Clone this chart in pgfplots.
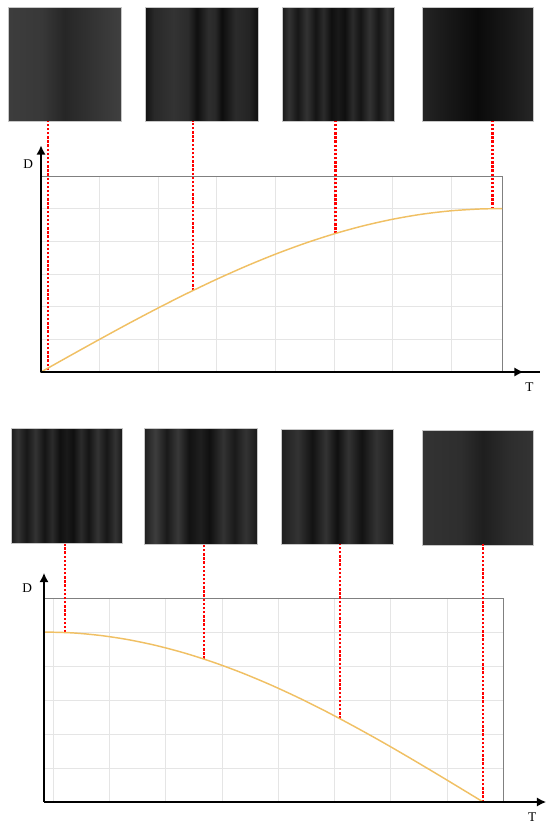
\documentclass[border=0pt]{standalone}
\usepackage{fontspec}
\setmainfont{Liberation Serif}
\usepackage{pgfplots}
\pgfplotsset{compat=1.18}
\usetikzlibrary{arrows.meta}
\definecolor{curvecol}{RGB}{240,192,100}
\definecolor{framecol}{RGB}{128,128,128}

\pgfdeclarehorizontalshading{sA}{100bp}{color(0bp)=(black!76); color(25bp)=(black!76); color(40bp)=(black!78); color(50bp)=(black!85); color(57.5bp)=(black!82); color(75bp)=(black!75); color(100bp)=(black!75)}
\pgfdeclarehorizontalshading{sB}{100bp}{color(0bp)=(black!93); color(25bp)=(black!93); color(29bp)=(black!84); color(37.5bp)=(black!80); color(44bp)=(black!83); color(48bp)=(black!94); color(53bp)=(black!82); color(56bp)=(black!84); color(59bp)=(black!95); color(65bp)=(black!83); color(71bp)=(black!86); color(75bp)=(black!94); color(100bp)=(black!94)}
\pgfdeclarehorizontalshading{sC}{100bp}{color(0bp)=(black!90); color(25bp)=(black!90); color(28bp)=(black!80); color(32bp)=(black!91); color(36bp)=(black!80); color(40bp)=(black!92); color(43.5bp)=(black!83); color(47bp)=(black!94); color(50bp)=(black!90); color(53bp)=(black!94); color(56.5bp)=(black!83); color(60bp)=(black!92); color(64bp)=(black!80); color(68bp)=(black!91); color(72bp)=(black!80); color(75bp)=(black!90); color(100bp)=(black!90)}
\pgfdeclarehorizontalshading{sD}{100bp}{color(0bp)=(black!86); color(25bp)=(black!86); color(35bp)=(black!90); color(50bp)=(black!96); color(65bp)=(black!90); color(75bp)=(black!85); color(100bp)=(black!85)}
\pgfdeclarehorizontalshading{sE}{100bp}{color(0bp)=(black!88); color(25bp)=(black!88); color(30bp)=(black!76); color(35bp)=(black!90); color(40bp)=(black!78); color(45bp)=(black!93); color(50bp)=(black!88); color(54bp)=(black!94); color(60bp)=(black!80); color(65bp)=(black!90); color(70bp)=(black!80); color(75bp)=(black!90); color(100bp)=(black!90)}
\pgfdeclarehorizontalshading{sF}{100bp}{color(0bp)=(black!88); color(25bp)=(black!88); color(32.5bp)=(black!80); color(39bp)=(black!93); color(45bp)=(black!80); color(50bp)=(black!94); color(55bp)=(black!80); color(61bp)=(black!93); color(67.5bp)=(black!80); color(75bp)=(black!90); color(100bp)=(black!90)}
\pgfdeclarehorizontalshading{sG}{100bp}{color(0bp)=(black!80); color(25bp)=(black!80); color(42.5bp)=(black!82); color(52.5bp)=(black!88); color(65bp)=(black!82); color(75bp)=(black!80); color(100bp)=(black!80)}

\tikzset{reddot/.style={color={rgb,255:red,255;green,0;blue,0}, line width=1.8pt, dash pattern=on 1.8pt off 1.3pt}}

\begin{document}
\begin{tikzpicture}[font=\fontsize{10}{11}\selectfont]
\useasboundingbox (0,0) rectangle (412.5pt,-618.75pt);

% ---------- pictures (decoration) ----------
\begin{scope}[x=0.75pt,y=-0.75pt]
\shadedraw[shading=sA, draw=black!22, line width=0.4pt] (8,7) rectangle (121,121);
\shadedraw[shading=sB, draw=black!22, line width=0.4pt] (145,7) rectangle (258,121);
\shadedraw[shading=sC, draw=black!22, line width=0.4pt] (282,7) rectangle (394,121);
\shadedraw[shading=sD, draw=black!22, line width=0.4pt] (422,7) rectangle (533,121);
\shadedraw[shading=sC, draw=black!22, line width=0.4pt] (11,428) rectangle (122,543);
\shadedraw[shading=sE, draw=black!22, line width=0.4pt] (144,428) rectangle (257,544);
\shadedraw[shading=sF, draw=black!22, line width=0.4pt] (281,429) rectangle (393,544);
\shadedraw[shading=sG, draw=black!22, line width=0.4pt] (422,430) rectangle (533,545);
\end{scope}

% ---------- top panel ----------
\begin{axis}[at={(0.75*41pt,-0.75*372pt)}, anchor=south west, scale only axis,
  width=345.75pt, height=147pt,
  xmin=0, xmax=7.87, ymin=0, ymax=6,
  xtick={1,...,7}, ytick={1,...,5}, xticklabels={}, yticklabels={},
  grid=major, major grid style={line width=0.5pt, draw=black!10},
  major tick length=0pt,
  axis line style={draw=framecol, line width=0.75pt},
  clip=false]
\addplot[reddot] coordinates {(0.12,0.06) (0.12,7.68)};
\addplot[reddot] coordinates {(2.59,2.49) (2.59,7.68)};
\addplot[reddot] coordinates {(5.03,4.23) (5.03,7.68)};
\addplot[reddot] coordinates {(7.71,4.99) (7.71,7.68)};
\addplot[curvecol, line width=1.1pt, smooth] coordinates {
 (0,0) (0.5,0.503) (1,1.000) (1.5,1.488) (2,1.960) (2.5,2.412) (3,2.840)
 (3.5,3.239) (4,3.606) (4.5,3.936) (5,4.227) (5.5,4.474) (6,4.675)
 (6.5,4.830) (7,4.935) (7.5,4.991) (7.8,5.000) (7.87,5.000)};
\draw[line width=1.5pt] (axis cs:0,0) -- (axis cs:8.52,0);
\draw[line width=1.5pt, -{Latex[length=7pt,width=7pt]}] (axis cs:0,0) -- (axis cs:8.24,0);
\draw[line width=1.5pt, -{Latex[length=7pt,width=7pt]}] (axis cs:0,0) -- (axis cs:0,6.94);
\node at (axis cs:-0.22,6.36) {D};
\node at (axis cs:8.34,-0.46) {T};
\end{axis}

% ---------- bottom panel ----------
\begin{axis}[at={(0.75*44pt,-0.75*802pt)}, anchor=south west, scale only axis,
  width=345pt, height=153pt,
  xmin=-0.16, xmax=8.01, ymin=0, ymax=6,
  xtick={0,...,7}, ytick={1,...,5}, xticklabels={}, yticklabels={},
  grid=major, major grid style={line width=0.5pt, draw=black!10},
  major tick length=0pt,
  axis line style={draw=framecol, line width=0.75pt},
  clip=false]
\addplot[reddot] coordinates {(0.21,4.99) (0.21,7.59)};
\addplot[reddot] coordinates {(2.68,4.21) (2.68,7.59)};
\addplot[reddot] coordinates {(5.10,2.45) (5.10,7.59)};
\addplot[reddot] coordinates {(7.64,0) (7.64,7.59)};
\addplot[curvecol, line width=1.1pt, smooth] coordinates {
 (-0.16,5.000) (0.34,4.975) (0.84,4.899) (1.34,4.774) (1.84,4.600) (2.34,4.380)
 (2.84,4.115) (3.34,3.809) (3.84,3.464) (4.34,3.084) (4.84,2.672) (5.34,2.232)
 (5.84,1.773) (6.34,1.294) (6.84,0.802) (7.34,0.302) (7.64,0)};
\draw[line width=1.5pt, -{Latex[length=7pt,width=7pt]}] (axis cs:-0.16,0) -- (axis cs:8.76,0);
\draw[line width=1.5pt, -{Latex[length=7pt,width=7pt]}] (axis cs:-0.16,0) -- (axis cs:-0.16,6.74);
\node at (axis cs:-0.46,6.29) {D};
\node at (axis cs:8.51,-0.44) {T};
\end{axis}
\end{tikzpicture}
\end{document}
